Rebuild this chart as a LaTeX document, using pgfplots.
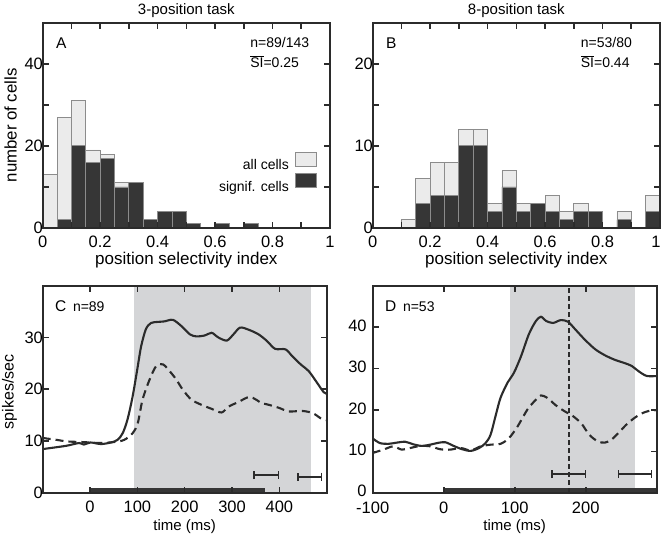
\documentclass[border=0pt]{standalone}
\usepackage{fontspec}
\setmainfont{Liberation Sans}
\usepackage{pgfplots}
\usepackage{pgfplotstable}
\pgfplotsset{compat=1.18}
\usetikzlibrary{arrows.meta}

\definecolor{lightbar}{HTML}{EBEBEB}
\definecolor{baredge}{HTML}{8C8C8C}
\definecolor{darkbar}{HTML}{363636}
\definecolor{shade}{HTML}{D4D5D7}
\definecolor{ink}{HTML}{2B2B2B}

\newcommand{\fs}[1]{\fontsize{#1}{#1}\selectfont}

\tikzset{
  ttl/.style={anchor=base, inner sep=0pt, font=\fs{15}},
  tag/.style={anchor=base west, inner sep=0pt, font=\fs{15.5}},
  note/.style={anchor=base west, inner sep=0pt, font=\fs{14}},
}

\pgfplotsset{
  panel/.style={
    scale only axis, axis on top, clip mode=individual,
    axis line style={ink, line width=2pt},
    every tick/.style={ink, line width=1.6pt},
    tick align=inside,
    major tick length=6pt, minor tick length=6pt,
    tick label style={font=\fs{16.5}},
    ylabel style={anchor=base, inner sep=0pt},
    xlabel style={anchor=base, inner sep=0pt},
    /pgf/number format/assume math mode=true,
  },
  hist/.style={panel, width=287.3pt, height=205.3pt,
    xmin=0, xmax=1, ymin=0,
    xtick={0,0.2,0.4,0.6,0.8,1}, minor xtick={0.1,0.3,0.5,0.7,0.9},
    xlabel={position selectivity index},
    xlabel style={font=\fs{17}, at={(axis description cs:0.5,-0.177)}},
    xticklabel style={anchor=base, yshift=-20pt},
    yticklabel style={xshift=3.7pt},
  },
  psth/.style={panel, width=284pt, height=207pt,
    xlabel={time (ms)},
    xlabel style={font=\fs{15}, at={(axis description cs:0.5,-0.181)}},
    xticklabel style={anchor=base, yshift=-20pt},
  },
  allbar/.style={ybar interval, fill=lightbar, draw=baredge, line width=0.8pt, forget plot},
  sigbar/.style={ybar interval, fill=darkbar, draw=baredge, line width=0.8pt, forget plot},
  boxlegend/.style={legend image code/.code={\draw[##1] (0pt,-0.7pt) rectangle (21pt,13.3pt);}},
  curve/.style={ink, line width=2.1pt, smooth},
  dcurve/.style={ink, line width=2.1pt, smooth, dash pattern=on 8pt off 5pt},
  errbar/.style={ink, line width=1.7pt, {Bar[width=8pt]-Bar[width=8pt]}},
}

% histogram bins of width 0.05 (left edges)
\pgfplotstableread{
x    all sig
0.00 13  0
0.05 27  2
0.10 31 20
0.15 19 16
0.20 18 17
0.25 11 10
0.30 11 11
0.35  2  2
0.40  4  4
0.45  4  4
0.50  1  1
0.55  0  0
0.60  1  1
0.65  0  0
0.70  1  1
0.75  0  0
0.80  0  0
0.85  0  0
0.90  0  0
0.95  0  0
1.00  0  0
}\histA

\pgfplotstableread{
x    all sig
0.00  0  0
0.05  0  0
0.10  1  0
0.15  6  3
0.20  8  4
0.25  8  4
0.30 12 10
0.35 12 10
0.40  3  2
0.45  7  5
0.50  3  2
0.55  3  3
0.60  4  2
0.65  2  1
0.70  3  2
0.75  2  2
0.80  0  0
0.85  2  1
0.90  0  0
0.95  4  2
1.00  0  0
}\histB

\begin{document}
\begin{tikzpicture}
\useasboundingbox (0,0) rectangle (661pt,535pt);

% ---------- A ----------
\begin{axis}[hist, at={(42.7pt,307pt)}, anchor=south west,
    ymax=50, ytick={0,20,40}, minor ytick={10,30},
    ylabel={number of cells},
    ylabel style={font=\fs{16.8}, at={(axis description cs:-0.0905,0.5)}},
    legend plot pos=right,
    legend cell align=right,
    legend style={draw=none, fill=none, at={(0.954,0.372)}, anchor=north east,
      font=\fs{14}, row sep=0pt, inner sep=0pt,
      nodes={inner sep=2pt}, column sep=4pt}]
\addplot[allbar] table[x=x, y=all] {\histA};
\addplot[sigbar] table[x=x, y=sig] {\histA};
\addlegendimage{boxlegend, fill=lightbar, draw=baredge, line width=0.8pt}
\addlegendentry{all cells}
\addlegendimage{boxlegend, fill=darkbar, draw=baredge, line width=0.8pt}
\addlegendentry{signif. cells}
\node[ttl] at (rel axis cs:0.5,1.042) {3-position task};
\node[tag] at (rel axis cs:0.046,0.875) {A};
\node[note] at (rel axis cs:0.722,0.877) {n=89/143};
\node[note] at (rel axis cs:0.722,0.784) {$\overline{\hbox{SI}}$=0.25};
\end{axis}

% ---------- B ----------
\begin{axis}[hist, at={(372.7pt,307pt)}, anchor=south west,
    ymax=25, ytick={0,10,20}, minor ytick={5,15},
    xtick={0,0.2,0.4,0.6,0.8},
    extra x ticks={1}, extra x tick labels={\hspace*{-8pt}1}]
\addplot[allbar] table[x=x, y=all] {\histB};
\addplot[sigbar] table[x=x, y=sig] {\histB};
\node[ttl] at (rel axis cs:0.5,1.042) {8-position task};
\node[tag] at (rel axis cs:0.046,0.875) {B};
\node[note] at (rel axis cs:0.724,0.877) {n=53/80};
\node[note] at (rel axis cs:0.724,0.784) {$\overline{\hbox{SI}}$=0.44};
\end{axis}

% ---------- C ----------
\begin{axis}[psth, at={(42.7pt,42.3pt)}, anchor=south west,
    xmin=-100, xmax=500, ymin=0, ymax=40,
    xtick={0,100,200,300,400}, ytick={0,10,20,30},
    yticklabel style={xshift=3.7pt},
    ylabel={spikes/sec},
    ylabel style={font=\fs{16}, at={(axis description cs:-0.102,0.488)}}]
\addplot[fill=shade, draw=none] coordinates {(93,40) (466,40)} \closedcycle;
\addplot[fill=darkbar, draw=none] coordinates {(0,0.9) (370,0.9)} \closedcycle;
\addplot[errbar] coordinates {(345,3.4) (400,3.4)};
\addplot[errbar] coordinates {(438,3.1) (491,3.1)};
\addplot[curve] coordinates {
(-100,8.4) (-94,8.5) (-70,8.8) (-48,9.1) (-23,9.6) (-13,9.3) (1,9.7) (23,9.4)
(44,9.7) (58,10.2) (69,11.5) (79,14.1) (90,18.6) (101,24.5) (108,28.3)
(118,31.6) (129,32.8) (143,33.0) (157,33.1) (175,33.4) (193,32.2) (211,30.6)
(225,30.2) (243,30.4) (257,30.9) (271,30.0) (289,29.4) (303,30.6) (317,31.9)
(335,31.5) (356,30.6) (374,29.3) (391,27.8) (413,27.7) (427,26.4) (445,24.8)
(462,23.5) (480,21.2) (494,19.4) (504,19.0)};
\addplot[dcurve] coordinates {
(-100,10.6) (-94,10.5) (-70,10.2) (-48,9.9) (-20,9.8) (1,9.7) (23,9.6) (51,9.8)
(72,10.2) (90,11.5) (101,13.5) (111,18.0) (126,21.9) (140,24.5) (154,24.8)
(168,23.5) (182,21.9) (196,19.9) (214,18.0) (235,17.0) (257,16.2) (278,15.5)
(292,16.6) (313,17.5) (338,18.5) (363,17.3) (377,17.0) (399,16.4) (420,15.7)
(448,15.8) (470,15.4) (487,14.4) (498,14.0)};
\node[tag] at (rel axis cs:0.043,0.874) {C};
\node[note] at (rel axis cs:0.106,0.874) {n=89};
\end{axis}

% ---------- D ----------
\begin{axis}[psth, at={(372.7pt,42.3pt)}, anchor=south west,
    xmin=-100, xmax=300, ymin=0, ymax=50,
    xtick={-100,0,100,200}, ytick={0,10,20,30,40},
    xticklabel style={yshift=-1pt},
    yticklabel style={xshift=-2.5pt, yshift=1.5pt}]
\addplot[fill=shade, draw=none] coordinates {(93,50) (269,50)} \closedcycle;
\addplot[fill=darkbar, draw=none] coordinates {(0,1.1) (300,1.1)} \closedcycle;
\addplot[ink, line width=1.7pt, dash pattern=on 5pt off 3pt] coordinates {(176,0) (176,50)};
\addplot[errbar] coordinates {(151,4.5) (201,4.5)};
\addplot[errbar] coordinates {(245,4.5) (294,4.5)};
\addplot[curve] coordinates {
(-100,13.1) (-90,12.0) (-78,11.8) (-66,12.1) (-54,12.3) (-43,11.7) (-31,11.3)
(-19,11.6) (-9,12.0) (2,12.2) (14,11.3) (26,10.5) (38,10.1) (50,10.8) (59,12.0)
(66,14.0) (73,18.5) (80,22.9) (90,26.6) (99,29.0) (109,33.0) (120,38.3)
(130,41.5) (137,42.5) (144,41.5) (154,41.0) (165,41.7) (175,41.3) (184,39.7)
(198,37.1) (213,34.7) (227,33.2) (241,32.1) (255,31.3) (265,30.6) (274,29.4)
(286,28.2) (301,28.2)};
\addplot[dcurve] coordinates {
(-100,9.6) (-85,10.4) (-71,11.2) (-59,10.4) (-47,10.8) (-33,11.3) (-19,11.2)
(-5,10.5) (9,10.4) (24,10.8) (38,10.2) (52,11.2) (66,11.6) (80,11.8) (92,13.2)
(104,16.0) (118,20.1) (130,22.5) (137,23.5) (146,22.9) (158,21.1) (170,19.7)
(182,18.5) (194,16.7) (205,14.0) (217,12.4) (227,12.1) (236,12.8) (246,14.4)
(257,16.4) (269,18.1) (281,19.3) (293,19.9) (301,19.9)};
\node[tag] at (rel axis cs:0.043,0.874) {D};
\node[note] at (rel axis cs:0.106,0.874) {n=53};
\end{axis}
\end{tikzpicture}
\end{document}
